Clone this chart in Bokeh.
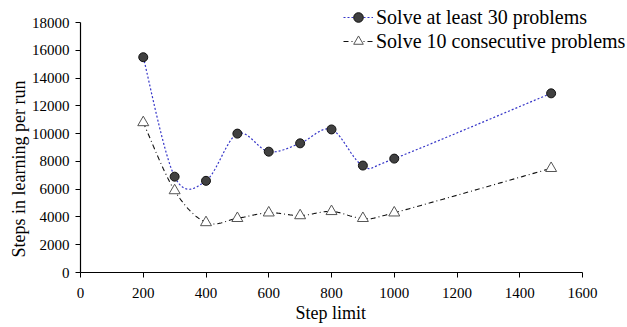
import numpy as np
from bokeh.plotting import figure
from bokeh.models import Range1d, Legend, LegendItem, FixedTicker, Title
from bokeh.embed import file_html
from bokeh.resources import INLINE

step_limit = [200, 300, 400, 500, 600, 700, 800, 900, 1000, 1500]
solve_30 = [15500, 6900, 6600, 10000, 8700, 9300, 10300, 7700, 8200, 12900]
solve_10_consec = [10800, 5900, 3600, 3900, 4300, 4100, 4400, 3900, 4300, 7500]
label_30 = "Solve at least 30 problems"
label_10 = "Solve 10 consecutive problems"
x_ticks = [0, 200, 400, 600, 800, 1000, 1200, 1400, 1600]
y_ticks = [0, 2000, 4000, 6000, 8000, 10000, 12000, 14000, 16000, 18000]

FONT = "Liberation Serif"

# layout (pixels): axes box spans x 80..582 and y 22..272 of a 627x327 canvas;
# the plotting frame is extended to the top/right edges so the legend is not clipped.
W, H = 627, 327
AX_L, AX_R, AX_T, AX_B = 80, 582, 22, 272
X_MAX, Y_MAX = 1600, 18000
x_end = X_MAX * (W - AX_L) / (AX_R - AX_L)
y_end = Y_MAX * AX_B / (AX_B - AX_T)


def smooth(xs, ys, n=40):
    """Excel-style smoothed line (cubic Bezier, cardinal spline)."""
    P = np.column_stack([xs, ys]).astype(float)
    m = len(P)
    out = []
    for i in range(m - 1):
        p0 = P[i - 1] if i > 0 else P[i]
        p1 = P[i]
        p2 = P[i + 1]
        p3 = P[i + 2] if i + 2 < m else P[i + 1]
        c1 = p1 + (p2 - p0) / 6.0
        c2 = p2 - (p3 - p1) / 6.0
        t = np.linspace(0, 1, n, endpoint=(i == m - 2))[:, None]
        b = ((1 - t) ** 3) * p1 + 3 * ((1 - t) ** 2) * t * c1 + 3 * (1 - t) * t ** 2 * c2 + t ** 3 * p2
        out.append(b)
    arr = np.vstack(out)
    return arr[:, 0], arr[:, 1]


p = figure(width=W, height=H, output_backend="svg", toolbar_location=None,
           x_range=Range1d(0, x_end), y_range=Range1d(0, y_end),
           min_border_left=AX_L, min_border_right=0, min_border_top=0, min_border_bottom=H - AX_B)
p.outline_line_color = None
p.xgrid.visible = False
p.ygrid.visible = False
p.background_fill_color = "white"
p.border_fill_color = "white"

sx, sy = smooth(step_limit, solve_30)
l1 = p.line(sx, sy, line_color="#3535c8", line_width=1.2, line_dash="2 2")
m1 = p.scatter(step_limit, solve_30, marker="circle", size=9, fill_color="#404040",
               line_color="#111111", line_width=1)

tx, ty = smooth(step_limit, solve_10_consec)
l2 = p.line(tx, ty, line_color="#111111", line_width=1.1, line_dash="5 3 1 3")
m2 = p.scatter(step_limit, solve_10_consec, marker="triangle", size=11, fill_color="white",
               line_color="#555555", line_width=1)

legend = Legend(items=[LegendItem(label=label_30, renderers=[l1, m1]),
                       LegendItem(label=label_10, renderers=[l2, m2])],
                location=(343 - AX_L, AX_B - 53), padding=0, margin=0, spacing=0,
                glyph_width=30, glyph_height=24, label_height=24, label_standoff=3,
                border_line_color=None, background_fill_alpha=0,
                label_text_font=FONT, label_text_font_size="20px", label_text_color="black")
p.add_layout(legend, "center")

for ax in (p.xaxis[0], p.yaxis[0]):
    ax.major_label_text_font = FONT
    ax.major_label_text_font_size = "15px"
    ax.major_label_text_color = "black"
    ax.axis_line_color = "black"
    ax.axis_line_width = 1.2
    ax.major_tick_line_color = "black"
    ax.major_tick_out = 5
    ax.major_tick_in = 0
    ax.minor_tick_line_color = None

p.xaxis.ticker = FixedTicker(ticks=x_ticks)
p.yaxis.ticker = FixedTicker(ticks=y_ticks)
p.xaxis.bounds = (0, X_MAX)
p.yaxis.bounds = (0, Y_MAX)
p.xaxis.major_label_standoff = 10
p.yaxis.major_label_standoff = 6

x_title = Title(text="Step limit", align="left", offset=295 - AX_L, standoff=0,
                text_font=FONT, text_font_size="18px", text_font_style="normal", text_color="black")
p.add_layout(x_title, "below")
y_title = Title(text="Steps in learning per run", align="left", offset=AX_B - 257, standoff=0,
                text_font=FONT, text_font_size="18px", text_font_style="normal", text_color="black")
p.add_layout(y_title, "left")

open("out.html", "w").write(file_html(p, INLINE))
